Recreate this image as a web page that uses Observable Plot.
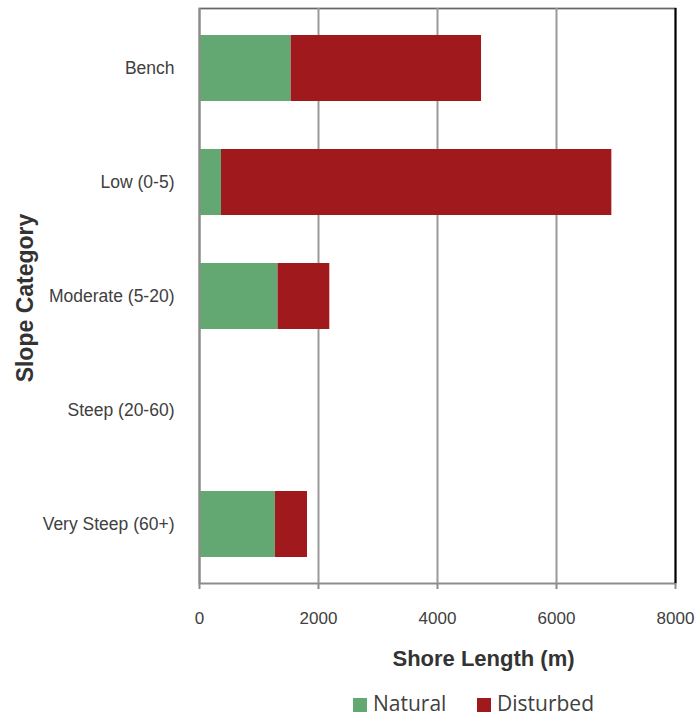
<!DOCTYPE html>
<html><head><meta charset="utf-8">
<script src="https://cdn.jsdelivr.net/npm/d3@7"></script>
<script src="https://cdn.jsdelivr.net/npm/@observablehq/plot@0.6"></script>
<style>
body{margin:0;background:#fff;font-family:"Liberation Sans",Arial,sans-serif}
#legend{position:relative;width:696px;height:39px;font-family:"Open Sans",sans-serif;font-size:21px;color:#404040}
#legend .sw{position:absolute;width:14px;height:14px;top:18px}
#legend .lb{position:absolute;top:13px;line-height:20px;white-space:nowrap}
</style></head><body><div id="chart"></div><div id="legend"></div>
<script>
const categories = ["Bench", "Low (0-5)", "Moderate (5-20)", "Steep (20-60)", "Very Steep (60+)"];
const natural = [1540, 370, 1320, 0, 1275];
const disturbed = [3200, 6560, 870, 0, 540];
const seriesNames = ["Natural", "Disturbed"];
const seriesColors = ["#63a873", "#a0191c"];
const xTicks = [0, 2000, 4000, 6000, 8000];

const rows = [];
categories.forEach((c, i) => {
  rows.push({category: c, type: seriesNames[0], value: natural[i]});
  rows.push({category: c, type: seriesNames[1], value: disturbed[i]});
});

const chart = Plot.plot({
  width: 696,
  height: 680,
  marginTop: 8,
  marginBottom: 97,
  marginLeft: 199,
  marginRight: 21,
  style: {fontFamily: "'Liberation Sans', Arial, sans-serif", color: "#404040", background: "#fff"},
  x: {domain: [0, 8000], ticks: xTicks},
  y: {domain: categories, paddingInner: 0.424, paddingOuter: 0.22},
  color: {domain: seriesNames, range: seriesColors},
  marks: [
    Plot.frame({stroke: "#8c8c8c", strokeWidth: 2}),
    Plot.frame({anchor: "top", stroke: "#666", strokeWidth: 1}),
    Plot.ruleX(xTicks.slice(1, -1), {stroke: "#9a9a9a", strokeWidth: 2}),
    Plot.ruleX([8000], {stroke: "#000", strokeWidth: 2}),
    Plot.barX(rows, {x: "value", y: "category", fill: "type"}),
    Plot.ruleX([0], {stroke: "#8c8c8c", strokeWidth: 2}),
    Plot.axisX({ticks: xTicks, tickSize: 6, tickPadding: 22, fontSize: 17, stroke: "#8c8c8c", strokeWidth: 2, label: null, tickFormat: d => String(d)}),
    Plot.axisY({tickSize: 0, tickPadding: 25, fontSize: 17.5, label: null}),
    Plot.text(["Slope Category"], {text: d => d, frameAnchor: "left", textAnchor: "middle", dx: -174, dy: 2, rotate: -90, fontSize: 23, fontWeight: "bold", fill: "#333"}),
    Plot.text(["Shore Length (m)"], {text: d => d, frameAnchor: "bottom", dx: 46, dy: 82, fontSize: 22, fontWeight: "bold", fill: "#333"})
  ]
});
document.getElementById("chart").appendChild(chart);

const legend = document.getElementById("legend");
const swLeft = [353, 477];
const lbLeft = [373, 497];
seriesNames.forEach((n, i) => {
  const s = document.createElement("div");
  s.className = "sw"; s.style.left = swLeft[i] + "px"; s.style.background = seriesColors[i];
  const t = document.createElement("div");
  t.className = "lb"; t.style.left = lbLeft[i] + "px"; t.textContent = n;
  legend.appendChild(s); legend.appendChild(t);
});
</script></body></html>
